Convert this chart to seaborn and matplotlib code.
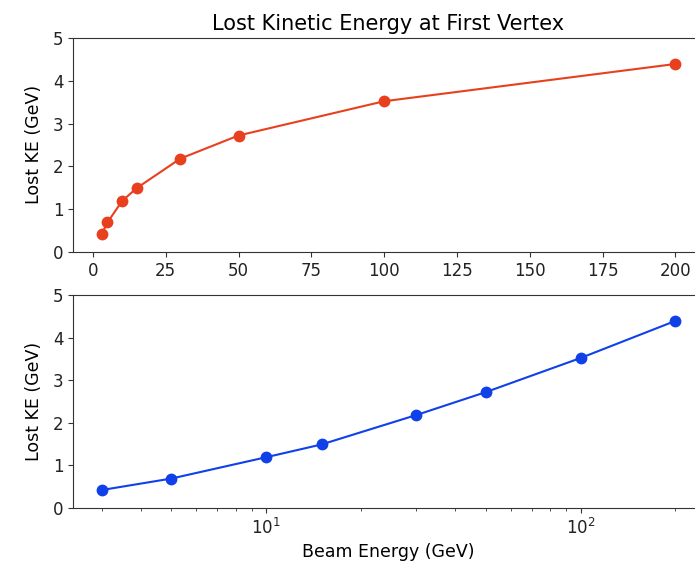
import matplotlib
matplotlib.use("Agg")
import matplotlib.pyplot as plt
import seaborn as sns
import pandas as pd

# beam energies and lost KE
beam_energy = [3, 5, 10, 15, 30, 50, 100, 200]
lost_ke = [0.42, 0.69, 1.19, 1.49, 2.18, 2.72, 3.52, 4.39]

df = pd.DataFrame({"beam": beam_energy, "lost": lost_ke})

fig = plt.figure(figsize=(6.95, 5.65), dpi=100)
ax1 = fig.add_axes([0.105, 0.554, 0.908, 0.379])
ax2 = fig.add_axes([0.105, 0.101, 0.908, 0.377])

# top: linear x
sns.lineplot(data=df, x="beam", y="lost", ax=ax1, color="#e8401e",
             marker="o", markersize=8.5, markeredgewidth=0, linewidth=1.5)
ax1.set_ylim(0, 5)
ax1.set_xlabel("")
ax1.set_ylabel("Lost KE (GeV)", fontsize=12.5, labelpad=7)
ax1.set_title("Lost Kinetic Energy at First Vertex", fontsize=15)

# bottom: log x
sns.lineplot(data=df, x="beam", y="lost", ax=ax2, color="#1040e8",
             marker="o", markersize=8.5, markeredgewidth=0, linewidth=1.5)
ax2.set_xscale("log")
ax2.set_ylim(0, 5)
ax2.set_xlabel("Beam Energy (GeV)", fontsize=12.5)
ax2.set_ylabel("Lost KE (GeV)", fontsize=12.5, labelpad=7)

for ax in (ax1, ax2):
    ax.tick_params(labelsize=12, color="#333333", labelcolor="#222222")
    ax.tick_params(which="minor", color="#333333")
    for s in ax.spines.values():
        s.set_color("#333333")

fig.savefig("out.png", dpi=100)
